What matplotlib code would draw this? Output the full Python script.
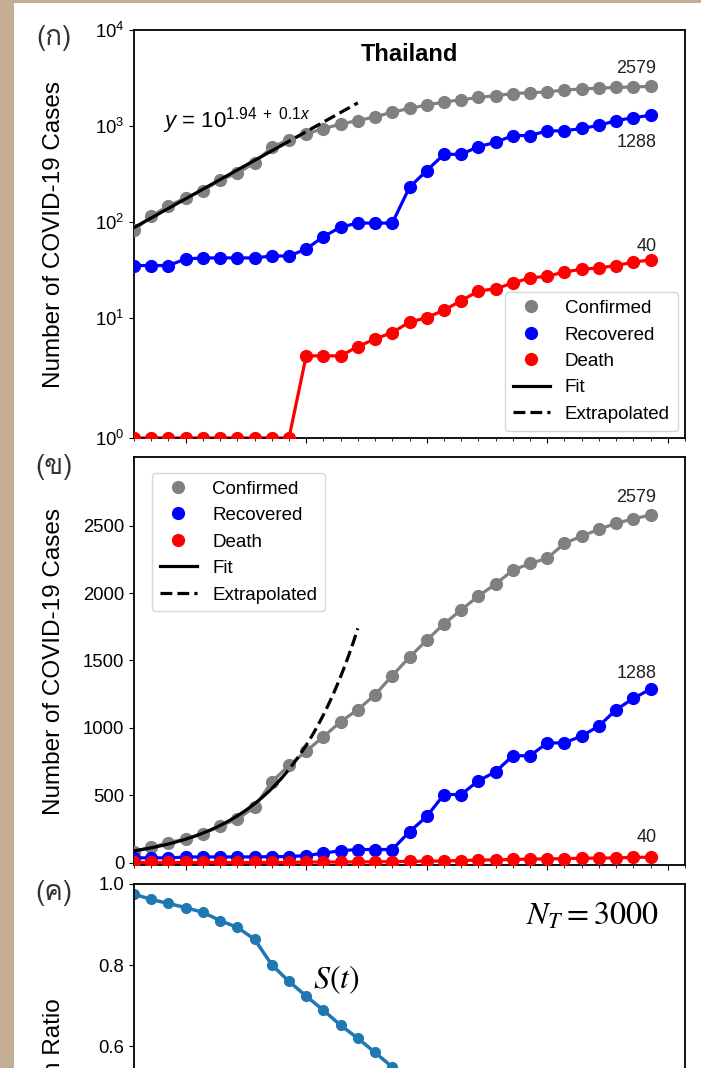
import numpy as np
import matplotlib
matplotlib.use('Agg')
import matplotlib.pyplot as plt
import matplotlib.dates as mdates
from matplotlib import font_manager
from matplotlib.ft2font import FT2Font
from matplotlib.patches import Rectangle

plt.rcParams['font.family'] = 'Liberation Sans'
plt.rcParams['mathtext.fontset'] = 'custom'
plt.rcParams['mathtext.rm'] = 'Liberation Sans'
plt.rcParams['mathtext.it'] = 'Liberation Sans:italic'
plt.rcParams['mathtext.bf'] = 'Liberation Sans:bold'
plt.rcParams['axes.linewidth'] = 1.3

# Thailand, 14 Mar - 13 Apr 2020
dates = np.arange('2020-03-14', '2020-04-14', dtype='datetime64[D]')
confirmed = [82, 114, 147, 177, 212, 272, 322, 411, 599, 721, 827, 934, 1045, 1136, 1245, 1388,
             1524, 1651, 1771, 1875, 1978, 2067, 2169, 2220, 2258, 2369, 2423, 2473, 2518, 2551, 2579]
recovered = [35, 35, 35, 41, 42, 42, 42, 42, 44, 44, 52, 70, 88, 97, 97, 97,
             229, 342, 505, 505, 607, 674, 793, 793, 888, 888, 940, 1013, 1135, 1218, 1288]
deaths = [1, 1, 1, 1, 1, 1, 1, 1, 1, 1, 4, 4, 4, 5, 6, 7,
          9, 10, 12, 15, 19, 20, 23, 26, 27, 30, 32, 33, 35, 38, 40]
# susceptible ratio, only the part that shows above the crop
s_ratio = [0.975, 0.962, 0.952, 0.942, 0.930, 0.910, 0.893, 0.864, 0.801, 0.760,
           0.724, 0.689, 0.652, 0.620, 0.585, 0.549, 0.492]

series = [(confirmed, 'gray', 'Confirmed'),
          (recovered, 'blue', 'Recovered'),
          (deaths, 'red', 'Death')]

# exponential fit y = 10**(a + b*x), x in days
fit_a, fit_b = 1.94, 0.1
fit_end, extrap_end = 8.5, 13.0


def thai_font():
    # first installed font that has Thai glyphs
    for f in font_manager.fontManager.ttflist:
        try:
            if ord('ก') in FT2Font(f.fname).get_charmap():
                return f.name
        except Exception:
            pass
    return 'DejaVu Sans'


def draw_cases(ax):
    for y, c, lab in series:
        ax.plot(dates, y, '-', color=c, lw=2.3, zorder=2)
        ax.plot(dates, y, 'o', color=c, ms=8.5, label=lab, zorder=3)
    t0 = mdates.date2num(dates[0])
    xf = np.linspace(0, fit_end, 60)
    xe = np.linspace(fit_end, extrap_end, 40)
    ax.plot(t0 + xf, 10**(fit_a + fit_b*xf), '-', color='k', lw=2.3, label='Fit', zorder=4)
    ax.plot(t0 + xe, 10**(fit_a + fit_b*xe), '--', color='k', lw=2.3, label='Extrapolated', zorder=4)


def label_ends(ax, offsets):
    for (y, c, lab), (dx, dy) in zip(series, offsets):
        ax.annotate(str(y[-1]), xy=(dates[-1], y[-1]), xytext=(dx, dy), textcoords='offset pixels',
                    ha='right', va='baseline', fontsize=13, color='#222222')


W, H = 701, 1068
fig = plt.figure(figsize=(W/100, H/100), dpi=100)
fig.patch.set_facecolor('#c4ae95')
fig.add_artist(Rectangle((14/W, 0), 1, 1 - 3/H, transform=fig.transFigure,
                         facecolor='white', edgecolor='none', zorder=-1))

left, width = 134/W, 551/W
ax1 = fig.add_axes([left, 1 - 438/H, width, 408/H])
ax2 = fig.add_axes([left, 1 - 865/H, width, 408/H], sharex=ax1)
ax3 = fig.add_axes([left, 1 - 1290/H, width, 406/H], sharex=ax1)

# (ก) symlog
draw_cases(ax1)
ax1.set_yscale('symlog')
ax1.set_ylim(1, 1e4)
ax1.text(0.5, 0.923, 'Thailand', transform=ax1.transAxes, ha='center', va='baseline',
         fontsize=17, fontweight='bold')
ax1.text(0.053, 0.762, r'$y$ = 10$^{1.94\ +\ 0.1x}$', transform=ax1.transAxes,
         ha='left', va='baseline', fontsize=16)
label_ends(ax1, [(6, 13), (6, -32), (6, 9)])
ax1.legend(loc='lower right', fontsize=13.5, borderaxespad=0.4)

# (ข) linear
draw_cases(ax2)
ax2.set_ylim(-18, 3010)
ax2.set_yticks([0, 500, 1000, 1500, 2000, 2500])
label_ends(ax2, [(6, 13), (6, 11), (6, 15)])
ax2.legend(loc='upper left', bbox_to_anchor=(0.033, 0.961), borderaxespad=0, fontsize=13.5)

# (ค) ratio
ax3.plot(dates[:len(s_ratio)], s_ratio, 'o-', color='tab:blue', lw=2.5, ms=7)
ax3.set_ylim(0, 1.0)
ax3.set_yticks([0.0, 0.2, 0.4, 0.6, 0.8, 1.0])
ax3.text(0.951, 0.92, r'$N_T = 3000$', transform=ax3.transAxes, ha='right', va='center',
         fontsize=23, math_fontfamily='stix')
ax3.text(0.368, 0.765, r'$S(t)$', transform=ax3.transAxes, ha='center', va='center',
         fontsize=23, math_fontfamily='stix')

ax1.set_xlim(dates[0], dates[-1] + np.timedelta64(2, 'D'))
for ax in (ax1, ax2, ax3):
    ax.xaxis.set_major_locator(mdates.WeekdayLocator(byweekday=mdates.TU))
    ax.xaxis.set_minor_locator(mdates.DayLocator())
    ax.tick_params(axis='both', labelsize=13.3)
    ax.tick_params(axis='x', labelbottom=False)
    ax.yaxis.set_label_coords(-0.125, 0.5)
ax1.set_ylabel('Number of COVID-19 Cases', fontsize=17.5)
ax2.set_ylabel('Number of COVID-19 Cases', fontsize=17.5)
ax3.set_ylabel('Population Ratio', fontsize=17.5)

thai = thai_font()
for txt, yp in [('(ก)', 38), ('(ข)', 467), ('(ค)', 893)]:
    fig.text(54/W, 1 - yp/H, txt, ha='center', va='center', fontsize=20,
             family=[thai, 'DejaVu Sans'], color='#333333')

fig.savefig('out.png', dpi=100, facecolor=fig.get_facecolor())
